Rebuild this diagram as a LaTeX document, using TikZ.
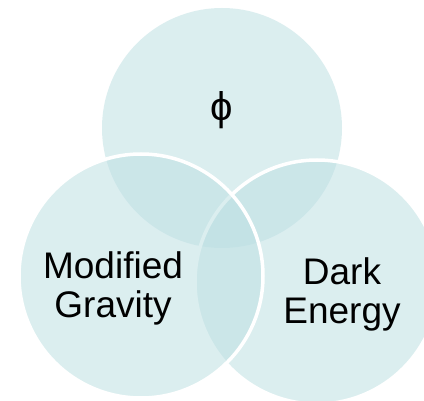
\documentclass[tikz,border=0pt]{standalone}
\usepackage{fontspec}
\setmainfont{Liberation Sans}
\definecolor{vennfill}{RGB}{190,224,227}
\begin{document}
\begin{tikzpicture}[x=1pt,y=-1pt,
  venn/.style={circle, fill=vennfill, fill opacity=0.54, inner sep=0pt},
  vennline/.style={draw=white, line width=3.5pt},
  lbl/.style={font=\fontsize{37}{39}\selectfont, align=center, inner sep=0pt, text=black}]
\useasboundingbox (0,0) rectangle (424,401);
\clip (0,0) rectangle (424,401);
\fill[white] (0,0) rectangle (424,401);
% top circle
\node[venn, minimum size=240pt] (top) at (222,128) {};
% right circle
\node[venn, vennline, minimum size=244pt] (right) at (317,282) {};
% left circle
\node[venn, vennline, minimum size=244pt] (left) at (141,276) {};
% labels
\node[lbl, font=\fontsize{40}{42}\selectfont] (tl) at (222,110) {ϕ};
\node[lbl] (ll) at (113,288) {Modified\\Gravity};
\node[lbl] (rl) at (342,294.5) {Dark\\Energy};
\end{tikzpicture}
\end{document}
